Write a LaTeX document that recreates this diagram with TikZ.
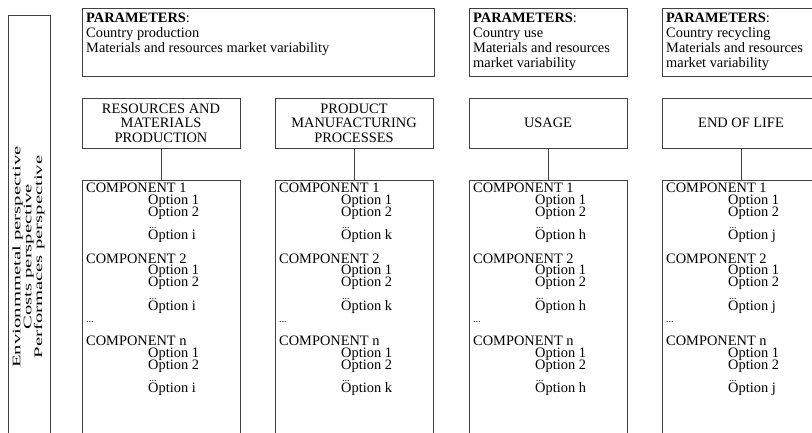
\documentclass[tikz,border=0pt]{standalone}
\usepackage{graphicx}
\usepackage{fontspec}
\setmainfont{Liberation Serif}
\begin{document}
\begin{tikzpicture}[x=1pt,y=-1pt,
  frame/.style={draw=black!75, line width=0.9pt, rectangle, inner sep=0pt},
  txt/.style={anchor=base west, inner sep=0pt, font=\fontsize{14.4}{15}\selectfont},
  smalldots/.style={anchor=base west, inner sep=0pt, font=\fontsize{10}{10}\selectfont},
  headtxt/.style={align=center, font=\fontsize{14.4}{14.5}\selectfont},
  link/.style={draw=black!75, line width=0.9pt}]
\useasboundingbox (0,0) rectangle (812,432);
\clip (0,0) rectangle (812,432);

% perspectives frame on the left
\node[frame, minimum width=42, minimum height=430] (persp) at (29.5,230) {};
\node[rotate=90, align=center, inner sep=0pt,
      font=\fontsize{11.5}{10.8}\selectfont] (persptxt) at (28.5,257)
  {\scalebox{1.8}[1]{Envionmmetal perspective}\\
   \scalebox{1.8}[1]{Costs perspective}\\
   \scalebox{1.8}[1]{Performaces perspective}};

% parameter boxes
\node[frame, minimum width=352, minimum height=68] (par1) at (258,42) {};
\node[frame, minimum width=158, minimum height=68] (par3) at (548,42) {};
\node[frame, minimum width=158, minimum height=68] (par4) at (741,42) {};

\node[txt] (par1a) at (86,22) {\textbf{PARAMETERS}:};
\node[txt] (par1b) at (86,37) {Country production};
\node[txt] (par1c) at (86,52) {Materials and resources market variability};

\node[txt] (par3a) at (473,22) {\textbf{PARAMETERS}:};
\node[txt] (par3b) at (473,37) {Country use};
\node[txt] (par3c) at (473,52) {Materials and resources};
\node[txt] (par3d) at (473,67) {market variability};

\node[txt] (par4a) at (666,22) {\textbf{PARAMETERS}:};
\node[txt] (par4b) at (666,37) {Country recycling};
\node[txt] (par4c) at (666,52) {Materials and resources};
\node[txt] (par4d) at (666,67) {market variability};

% life-cycle phase columns
\foreach \cx/\hd/\opt [count=\i] in {
    82/{RESOURCES AND\\MATERIALS\\PRODUCTION}/i,
    275/{PRODUCT\\MANUFACTURING\\PROCESSES}/k,
    469/{USAGE}/h,
    662/{END OF LIFE}/j} {
  \node[frame, headtxt, minimum width=158, minimum height=50] (head\i) at (\cx+79,123) {\hd};
  \node[frame, minimum width=158, minimum height=265] (comp\i) at (\cx+79,312.5) {};
  \draw[link] (head\i) -- (comp\i);
  \foreach \cy/\cn in {192.5/1, 263/2, 345.5/n} {
    \node[txt] (c\i\cn) at (\cx+4,\cy) {COMPONENT \cn};
    \node[txt] (o\i\cn a) at (\cx+66,\cy+11.7) {Option 1};
    \node[txt] (o\i\cn b) at (\cx+66,\cy+23.5) {Option 2};
    \node[smalldots] (d\i\cn) at (\cx+67,\cy+36) {...};
    \node[txt] (o\i\cn z) at (\cx+66,\cy+47) {Option \opt};
  }
  \node[smalldots] (gap\i) at (\cx+4,322) {...};
}
\end{tikzpicture}
\end{document}
